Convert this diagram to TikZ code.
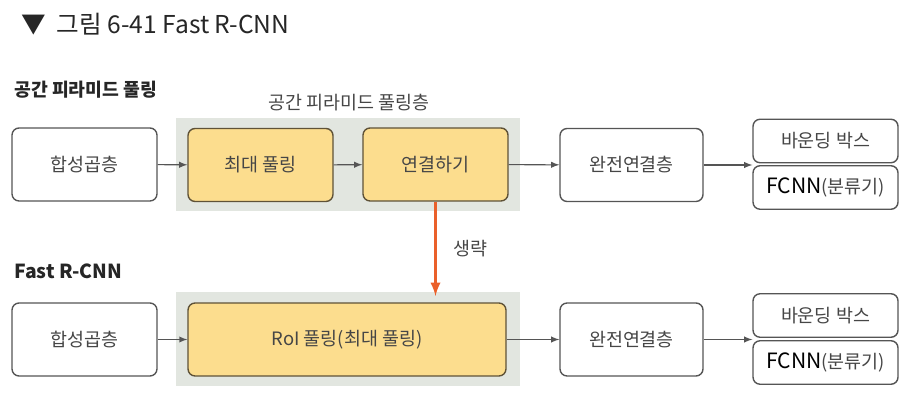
\documentclass[tikz,border=0pt]{standalone}
\usepackage{fontspec}
\setmainfont{Noto Sans CJK KR}
\usepackage{tikz}
\usetikzlibrary{arrows,positioning,backgrounds}
\definecolor{cPool}{RGB}{252,221,142}
\definecolor{cPoolEdge}{RGB}{95,82,55}
\definecolor{cBand}{RGB}{226,230,224}
\definecolor{cEdge}{RGB}{85,85,85}
\definecolor{cText}{RGB}{70,70,70}
\definecolor{cSkip}{RGB}{234,96,42}

\begin{document}
\begin{tikzpicture}[x=0.02cm,y=-0.02cm,
  box/.style={draw=cEdge,line width=0.8pt,rounded corners=4pt,fill=white,text=cText,
    font=\fontsize{10.5}{12}\selectfont,minimum width=2.9cm,minimum height=1.46cm,inner sep=0pt},
  pool/.style={box,fill=cPool,draw=cPoolEdge},
  outbox/.style={box,minimum height=0.87cm},
  flow/.style={-latex,cEdge,line width=0.6pt},
  head/.style={font=\bfseries\fontsize{10.4}{12}\selectfont,text=black!85,anchor=west,inner sep=0pt}]
  \useasboundingbox (0,0) rectangle (918,411);
  % title
  \node[anchor=west,inner sep=0pt,font=\fontsize{14}{16}\selectfont,text=black!85] (title) at (21,24) {▼\ \ 그림 6-41 Fast R-CNN};
  % upper row: spatial pyramid pooling
  \node[head] (sppHead) at (14,90) {공간 피라미드 풀링};
  \node[text=cText,font=\fontsize{10.5}{12}\selectfont,inner sep=0pt] (sppLayer) at (349,103) {공간 피라미드 풀링층};
  \node[box] (conv1) at (84.5,164.5) {합성곱층};
  \node[pool] (maxp) at (260.5,165) {최대 풀링};
  \node[pool] (concat) at (435.5,164.5) {연결하기};
  \node[box,minimum width=2.86cm] (fc1) at (631.5,165) {완전연결층};
  \node[outbox] (bbox1) at (825.5,141) {바운딩 박스};
  \node[outbox] (cls1) at (825.5,187.5) {{\color{black}\fontsize{12}{13}\selectfont FCNN}(분류기)};
  % lower row: Fast R-CNN
  \node[head,font=\bfseries\fontsize{11}{12}\selectfont] (frcHead) at (14,271) {Fast R-CNN};
  \node[box] (conv2) at (84.5,339.5) {합성곱층};
  \node[pool,minimum width=6.36cm] (roi) at (347,339.5) {RoI 풀링(최대 풀링)};
  \node[box,minimum width=2.86cm] (fc2) at (631.5,339.5) {완전연결층};
  \node[outbox] (bbox2) at (825.5,315.5) {바운딩 박스};
  \node[outbox] (cls2) at (825.5,362.5) {{\color{black}\fontsize{12}{13}\selectfont FCNN}(분류기)};
  % grey bands behind the pooling boxes
  \begin{scope}[on background layer]
    \fill[cBand] (176,118) rectangle (520,211);
    \fill[cBand] (176,292) rectangle (520,386);
  \end{scope}
  % connectors
  \draw[flow] (conv1) -- (maxp);
  \draw[flow] (maxp) -- (concat);
  \draw[flow] (concat) -- (fc1);
  \draw[flow] (fc1.east) -- (fc1.east -| bbox1.west);
  \draw[flow] (conv2) -- (roi);
  \draw[flow] (roi) -- (fc2);
  \draw[flow] (fc2.east) -- (fc2.east -| bbox2.west);
  % skipped step
  \coordinate (skipEnd) at (435.5,296);
  \draw[-latex,cSkip,line width=1.6pt] (concat.south) -- (skipEnd)
    node[midway,right=6pt,text=cText,font=\fontsize{10.5}{12}\selectfont] (skipLbl) {생략};
\end{tikzpicture}
\end{document}
